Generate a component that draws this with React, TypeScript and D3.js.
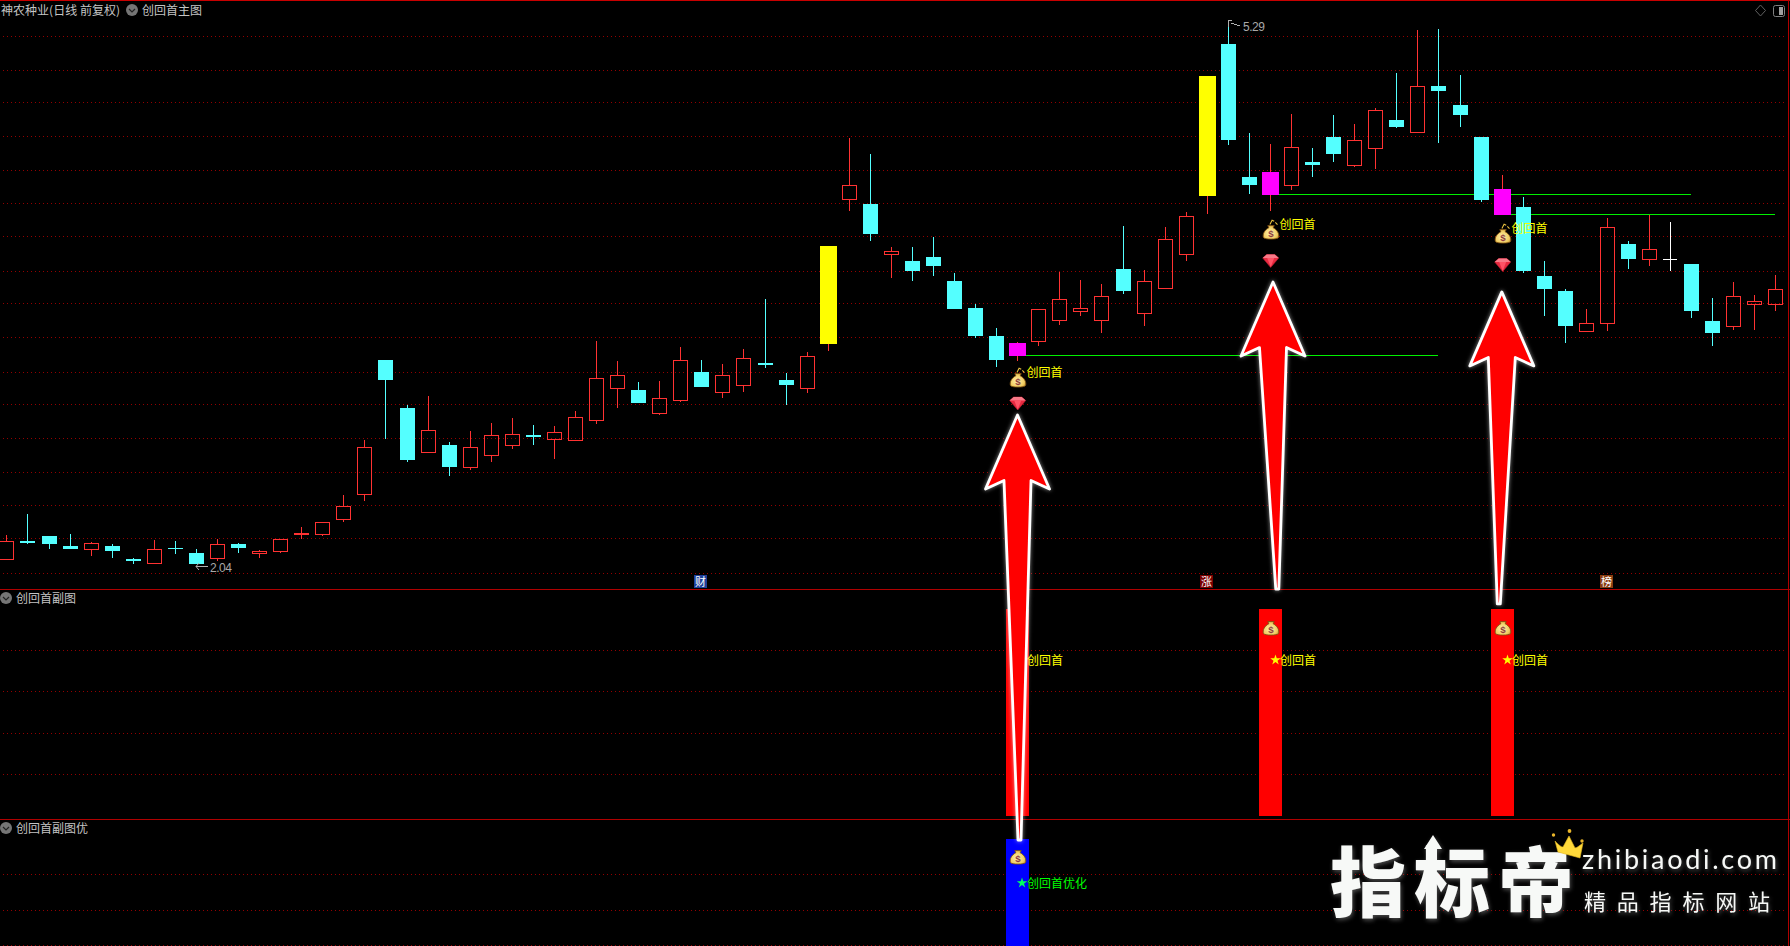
import React from "react";
import * as d3 from "d3";

// ---- data (prices) ----
const opens = [2.064,2.178,2.207,2.148,2.124,2.148,2.070,2.040,2.136,2.106,2.070,2.160,2.100,2.112,2.213,2.213,2.303,2.453,3.260,2.973,2.704,2.752,2.614,2.686,2.746,2.811,2.782,2.776,2.895,3.087,3.081,2.937,3.015,3.188,3.063,3.104,3.242,3.140,3.087,3.356,4.217,4.193,3.888,3.852,3.876,3.732,3.571,3.403,3.284,3.368,3.493,3.547,3.493,3.804,3.535,3.685,3.888,4.241,5.150,4.354,4.247,4.300,4.444,4.594,4.420,4.522,4.695,4.617,4.898,4.785,4.594,4.127,4.175,3.762,3.673,3.427,3.475,3.954,3.858,3.864,3.834,3.493,3.457,3.589,3.589];
const highs = [2.213,2.339,2.207,2.219,2.172,2.160,2.076,2.184,2.178,2.130,2.190,2.166,2.124,2.190,2.261,2.291,2.453,2.782,3.260,2.991,3.045,2.770,2.835,2.883,2.913,2.871,2.865,2.955,3.374,3.254,3.128,3.134,3.338,3.260,3.236,3.326,3.625,3.182,3.308,3.942,4.588,4.492,3.936,3.936,3.996,3.780,3.595,3.451,3.368,3.565,3.786,3.738,3.714,4.061,3.798,4.055,4.145,4.958,5.290,4.617,4.552,4.731,4.528,4.725,4.671,4.767,4.976,5.233,5.239,4.964,4.594,4.366,4.235,3.852,3.685,3.565,4.109,3.972,4.127,4.085,3.834,3.631,3.726,3.649,3.768];
const lows = [2.064,2.160,2.130,2.130,2.088,2.076,2.040,2.040,2.100,2.040,2.058,2.106,2.076,2.106,2.190,2.207,2.291,2.417,2.788,2.650,2.704,2.566,2.602,2.650,2.728,2.752,2.668,2.776,2.877,2.973,3.003,2.931,3.009,3.099,3.033,3.069,3.212,2.991,3.063,3.314,4.151,3.972,3.750,3.732,3.762,3.565,3.392,3.218,3.254,3.344,3.469,3.523,3.421,3.655,3.463,3.685,3.852,4.133,4.546,4.253,4.151,4.277,4.354,4.444,4.414,4.402,4.647,4.617,4.558,4.653,4.205,4.127,3.780,3.523,3.362,3.427,3.433,3.804,3.822,3.792,3.511,3.344,3.439,3.439,3.553];
const closes = [2.178,2.166,2.160,2.130,2.166,2.118,2.058,2.130,2.130,2.040,2.160,2.136,2.118,2.190,2.225,2.291,2.387,2.740,3.140,2.662,2.841,2.620,2.740,2.811,2.817,2.800,2.829,2.919,3.152,3.170,3.003,3.033,3.260,3.099,3.170,3.272,3.230,3.110,3.284,3.942,4.306,4.013,3.912,3.792,3.822,3.565,3.403,3.260,3.362,3.565,3.625,3.571,3.643,3.673,3.732,3.984,4.121,4.958,4.576,4.306,4.384,4.534,4.426,4.492,4.576,4.755,4.653,4.898,4.869,4.725,4.217,4.283,3.792,3.685,3.463,3.481,4.055,3.864,3.924,3.864,3.553,3.421,3.643,3.613,3.685];

const yellowCandles = [39, 57];
const magentaCandles = [48, 60, 71];
const priceGrid = [5.197,4.994,4.797,4.594,4.396,4.193,3.996,3.792,3.595,3.392,3.188,2.991,2.788,2.590,2.387,2.190,1.986];
const subGrid = [0.8, 0.6, 0.4, 0.2];
const optGrid = [0.8, 0.6, 0.4];
const signalCandles = [48, 60, 71];
const signalLevels = [3.290, 4.253, 4.133];
const levelEnds = [68, 80, 84];
const subBarCandles = [48, 60, 71];
const optBarCandles = [48];
const tags = [
  { i: 33, t: "财", bg: "#1d3f9a" },
  { i: 57, t: "涨", bg: "#7a0000" },
  { i: 76, t: "榜", bg: "#8a3c10" },
];

// ---- scales ----
const xScale = d3.scaleLinear().domain([0, 84]).range([6.4, 1775.4]);
const yScale = d3.scaleLinear().domain([2.04, 5.29]).range([564, 20.5]);
const ySub = d3.scaleLinear().domain([0, 1]).range([816, 609]);
const yOpt = d3.scaleLinear().domain([0, 1]).range([1016.5, 839]);
const col = (i: number) => Math.round(xScale(i));
const row = (p: number) => Math.round(yScale(p));

const RED = "#ff3232";
const CYAN = "#54ffff";
const CJK = "'Noto Sans CJK SC','Noto Sans',sans-serif";
const GREY = "#c4c4c4";
const starPath = d3.symbol().type(d3.symbolStar).size(34)() as string;

function Candle({ i }: { i: number }) {
  const c = col(i);
  const wx = c + 0.5;
  const o = opens[i], cl = closes[i];
  const T = row(Math.max(o, cl));
  const B = row(Math.min(o, cl));
  const H = row(highs[i]);
  const L = row(lows[i]);
  const isY = yellowCandles.includes(i);
  const isM = magentaCandles.includes(i);
  if (isY || isM) {
    return (
      <g shapeRendering="crispEdges">
        <line x1={wx} x2={wx} y1={H} y2={L} stroke={RED} />
        <rect x={c - 8} y={T} width={17} height={B - T} fill={isY ? "#ffff00" : "#ff00ff"} />
      </g>
    );
  }
  if (o === cl) {
    return (
      <g shapeRendering="crispEdges" stroke="#ffffff">
        <line x1={wx} x2={wx} y1={H} y2={L} />
        <line x1={c - 7} x2={c + 7} y1={T + 0.5} y2={T + 0.5} />
      </g>
    );
  }
  if (cl > o) {
    return (
      <g shapeRendering="crispEdges" stroke={RED} fill="none">
        {H < T && <line x1={wx} x2={wx} y1={H} y2={T} />}
        {L > B && <line x1={wx} x2={wx} y1={B} y2={L} />}
        <rect x={c - 7 + 0.5} y={T + 0.5} width={14} height={Math.max(1, B - T - 1)} />
      </g>
    );
  }
  return (
    <g shapeRendering="crispEdges">
      <line x1={wx} x2={wx} y1={H} y2={L} stroke={CYAN} />
      <rect x={c - 7} y={T} width={15} height={Math.max(1, B - T)} fill={CYAN} />
    </g>
  );
}

function Bag({ x, y, tail = true }: { x: number; y: number; tail?: boolean }) {
  return (
    <g transform={`translate(${x},${y}) scale(1.08)`}>
      {tail && <path d="M-1,-6 L1,-10 L3,-9 M4,-8 L6,-6" stroke="#e8c040" strokeWidth={1} fill="none" />}
      <path d="M-3,-5 L3,-5 L2,-3 C6,-1 8,3 7,6 C6,8 -6,8 -7,6 C-8,3 -6,-1 -2,-3 Z" fill="url(#bagFill)" stroke="#7c4f12" strokeWidth={0.8} />
      <text x={0} y={5.5} textAnchor="middle" fontSize={9} fontWeight={700} fontFamily="'Liberation Sans',sans-serif" fill="#8f3d3d">$</text>
    </g>
  );
}

function Gem({ x, y }: { x: number; y: number }) {
  return (
    <g transform={`translate(${x},${y})`}>
      <path d="M-8,-3 L-4,-6.5 L4,-6.5 L8,-3 L0,6.5 Z" fill="#e82a40" stroke="#b81c30" strokeWidth={0.6} />
      <path d="M-8,-3 L8,-3 L4,-6.5 L-4,-6.5 Z" fill="#f87a88" />
      <path d="M-3.5,-3 L3.5,-3 L0,6 Z" fill="#ff5366" />
    </g>
  );
}

function Arrow({ x, tip, len, tailDx }: { x: number; tip: number; len: number; tailDx: number }) {
  const pts: [number, number][] = [
    [x, tip],
    [x + 32, tip + 74],
    [x + 13.5, tip + 65.5],
    [x + tailDx + 1.5, tip + len],
    [x + tailDx - 1.5, tip + len],
    [x - 13.5, tip + 65.5],
    [x - 32, tip + 74],
  ];
  const d = d3.line()(pts) + "Z";
  return <path d={d} fill="#ff0000" stroke="#ffffff" strokeWidth={2.8} strokeLinejoin="round" filter="url(#arrowGlow)" />;
}

function Chevron({ x, y }: { x: number; y: number }) {
  return (
    <g>
      <circle cx={x} cy={y} r={6} fill="#757575" />
      <path d={`M${x - 3},${y - 1} L${x},${y + 2} L${x + 3},${y - 1}`} stroke="#222" strokeWidth={1.2} fill="none" />
    </g>
  );
}

function Label({ x, y, t, fill = GREY, len }: { x: number; y: number; t: string; fill?: string; len?: number }) {
  return (
    <text x={x} y={y} fill={fill} fontSize={12} fontFamily={CJK} textLength={len} lengthAdjust="spacing">
      {t}
    </text>
  );
}

export default function App() {
  const idx = d3.range(opens.length);
  const arrowTips = [2.931, 3.726, 3.667];
  const arrowLens = [425, 307, 312];
  const arrowTailDx = [2, 4.3, -3];
  const arrowDx = [0, 2.5, -0.7];
  const bagYs = [379, 231, 235];
  const gemYs = [403.5, 261, 265];
  const labelYs = [376.5, 228.5, 232.5];
  return (
    <svg width={1790} height={946} style={{ position: "absolute", left: 0, top: 0, display: "block", background: "#000" }}>
      <defs>
        <radialGradient id="bagFill" cx="45%" cy="55%" r="65%">
          <stop offset="0%" stopColor="#fff2b0" />
          <stop offset="70%" stopColor="#f0cc60" />
          <stop offset="100%" stopColor="#b98a28" />
        </radialGradient>
        <filter id="arrowGlow" x="-30%" y="-10%" width="160%" height="120%">
          <feGaussianBlur in="SourceAlpha" stdDeviation="2.2" result="b" />
          <feFlood floodColor="#ffffff" floodOpacity="0.55" />
          <feComposite in2="b" operator="in" />
          <feMerge>
            <feMergeNode />
            <feMergeNode in="SourceGraphic" />
          </feMerge>
        </filter>
        <filter id="logoGlow" x="-10%" y="-20%" width="120%" height="140%">
          <feGaussianBlur in="SourceAlpha" stdDeviation="2.2" result="b" />
          <feFlood floodColor="#bbbbbb" floodOpacity="0.4" />
          <feComposite in2="b" operator="in" />
          <feOffset dx="1" dy="2" />
          <feMerge>
            <feMergeNode />
            <feMergeNode in="SourceGraphic" />
          </feMerge>
        </filter>
      </defs>
      <rect width={1790} height={946} fill="#000" />

      {/* grids */}
      <g stroke="#940000" strokeDasharray="1 3" shapeRendering="crispEdges">
        {priceGrid.map((p) => (
          <line key={p} x1={3} x2={1786} y1={Math.floor(yScale(p)) + 0.5} y2={Math.floor(yScale(p)) + 0.5} />
        ))}
        {subGrid.map((v) => (
          <line key={"s" + v} x1={3} x2={1786} y1={Math.floor(ySub(v)) + 0.5} y2={Math.floor(ySub(v)) + 0.5} />
        ))}
        {optGrid.map((v) => (
          <line key={"o" + v} x1={3} x2={1786} y1={Math.floor(yOpt(v)) + 0.5} y2={Math.floor(yOpt(v)) + 0.5} />
        ))}
      </g>

      {/* pane borders */}
      <g stroke="#b00000" shapeRendering="crispEdges">
        <line x1={0} x2={1790} y1={0.5} y2={0.5} stroke="#c80000" />
        <line x1={0} x2={1790} y1={589.5} y2={589.5} />
        <line x1={0} x2={1790} y1={819.5} y2={819.5} />
        <line x1={1788.5} x2={1788.5} y1={0} y2={946} />
      </g>

      {/* level lines */}
      <g stroke="#00f000" shapeRendering="crispEdges">
        {signalLevels.map((p, k) => (
          <line key={k} x1={col(signalCandles[k]) + 9} x2={col(levelEnds[k])} y1={row(p) + 0.5} y2={row(p) + 0.5} />
        ))}
      </g>

      {/* candles */}
      {idx.map((i) => (
        <Candle key={i} i={i} />
      ))}

      {/* high / low notes */}
      <g stroke="#b0b0b0" fill="none" shapeRendering="crispEdges">
        <path d={`M${col(58) + 0.5},20 V27 M${col(58)},20.5 H${col(58) + 4} M${col(58) + 3},23.5 H${col(58) + 6} M${col(58) + 6},24.5 H${col(58) + 9} M${col(58) + 9},25.5 H${col(58) + 12}`} />
        <path d={`M${col(9)},566.5 H${col(9) + 12} M${col(9) + 3},563 L${col(9)},566.5 L${col(9) + 3},570`} shapeRendering="auto" />
      </g>
      <text x={1243} y={31} fontSize={12} fill="#a8a8a8" fontFamily="'Liberation Sans',sans-serif" textLength={22}>5.29</text>
      <text x={210} y={572} fontSize={12} fill="#a8a8a8" fontFamily="'Liberation Sans',sans-serif" textLength={22}>2.04</text>

      {/* tags */}
      {tags.map((t) => (
        <g key={t.t}>
          <rect x={col(t.i) - 7} y={575} width={13} height={13} fill={t.bg} shapeRendering="crispEdges" />
          <text x={col(t.i) - 0.5} y={586} fontSize={11} fill="#fff" textAnchor="middle" fontFamily={CJK}>{t.t}</text>
        </g>
      ))}

      {/* sub-pane bars */}
      {subBarCandles.map((i) => (
        <rect key={i} x={col(i) - 11} y={ySub(1)} width={23} height={ySub(0) - ySub(1)} fill="#ff0000" shapeRendering="crispEdges" />
      ))}
      {optBarCandles.map((i) => (
        <rect key={i} x={col(i) - 11} y={yOpt(1)} width={23} height={946 - yOpt(1)} fill="#0000ff" shapeRendering="crispEdges" />
      ))}

      {/* headers */}
      <Label x={1} y={14.5} t="神农种业(日线 前复权)" len={119} />
      <Chevron x={132} y={10} />
      <Label x={142} y={14.5} t="创回首主图" />
      <Chevron x={6} y={598} />
      <Label x={16} y={602.5} t="创回首副图" />
      <Chevron x={6} y={828} />
      <Label x={16} y={832.5} t="创回首副图优" />

      {/* top right icons */}
      <path d="M1760.5,5 L1765.5,10.5 L1760.5,16 L1755.5,10.5 Z" fill="none" stroke="#606060" />
      <rect x={1773.5} y={5.5} width={11} height={11} rx={2} fill="none" stroke="#808080" />
      <rect x={1779} y={7} width={4} height={8} fill="#a0a0a0" />

      {/* signal marks: main pane */}
      {signalCandles.map((i, k) => {
        const cx = col(i) + 0.5;
        return (
          <g key={i}>
            <Bag x={cx + 0.5} y={bagYs[k]} />
            <Gem x={cx + 0.2} y={gemYs[k]} />
            <Label x={cx + 9} y={labelYs[k]} t="创回首" fill="#ffff00" />
          </g>
        );
      })}

      {/* signal marks: sub panes */}
      {subBarCandles.map((i) => {
        const cx = col(i) + 0.5;
        return (
          <g key={i}>
            <Bag x={cx + 0.5} y={627} tail={false} />
            <path d={starPath} transform={`translate(${cx + 5},660)`} fill="#ffff00" />
            <Label x={cx + 9.5} y={664.5} t="创回首" fill="#ffff00" />
          </g>
        );
      })}
      {optBarCandles.map((i) => {
        const cx = col(i) + 0.5;
        return (
          <g key={i}>
            <Bag x={cx + 0.5} y={856} tail={false} />
            <path d={starPath} transform={`translate(${cx + 4.5},883)`} fill="#00ff60" />
            <Label x={cx + 9.5} y={887.5} t="创回首优化" fill="#00ff00" />
          </g>
        );
      })}

      {/* arrows */}
      {signalCandles.map((i, k) => (
        <Arrow key={i} x={col(i) + 0.5 + arrowDx[k]} tip={yScale(arrowTips[k])} len={arrowLens[k]} tailDx={arrowTailDx[k]} />
      ))}

      {/* logo */}
      <g filter="url(#logoGlow)" fill="#f7f9f7" fontFamily={CJK}>
        <text x={1330} y={911} fontSize={76} fontWeight={900} textLength={244} lengthAdjust="spacing">指标帝</text>
        <path d="M1433,835 L1442,849 L1437,849 L1437,860 L1429,860 L1429,849 L1424,849 Z" />
        <text x={1582} y={869} fontSize={27} fontFamily="Lato,'Open Sans',sans-serif" textLength={195} lengthAdjust="spacing">zhibiaodi.com</text>
        <text x={1584} y={910} fontSize={22} textLength={186} lengthAdjust="spacing">精品指标网站</text>
      </g>
      {/* crown */}
      <g>
        <path d="M1555,841 C1559,845 1561,847 1563,847 L1569,836 L1575,848 C1577,848 1580,845 1583,843 L1580,858 L1558,852 Z" fill="#ffd93a" stroke="#e6b820" strokeWidth={0.6} />
        <circle cx={1553.5} cy={835} r={1.7} fill="#e9b52a" />
        <circle cx={1569.5} cy={831} r={1.9} fill="#e9b52a" />
        <circle cx={1582} cy={841} r={1.7} fill="#e9b52a" />
      </g>
    </svg>
  );
}
